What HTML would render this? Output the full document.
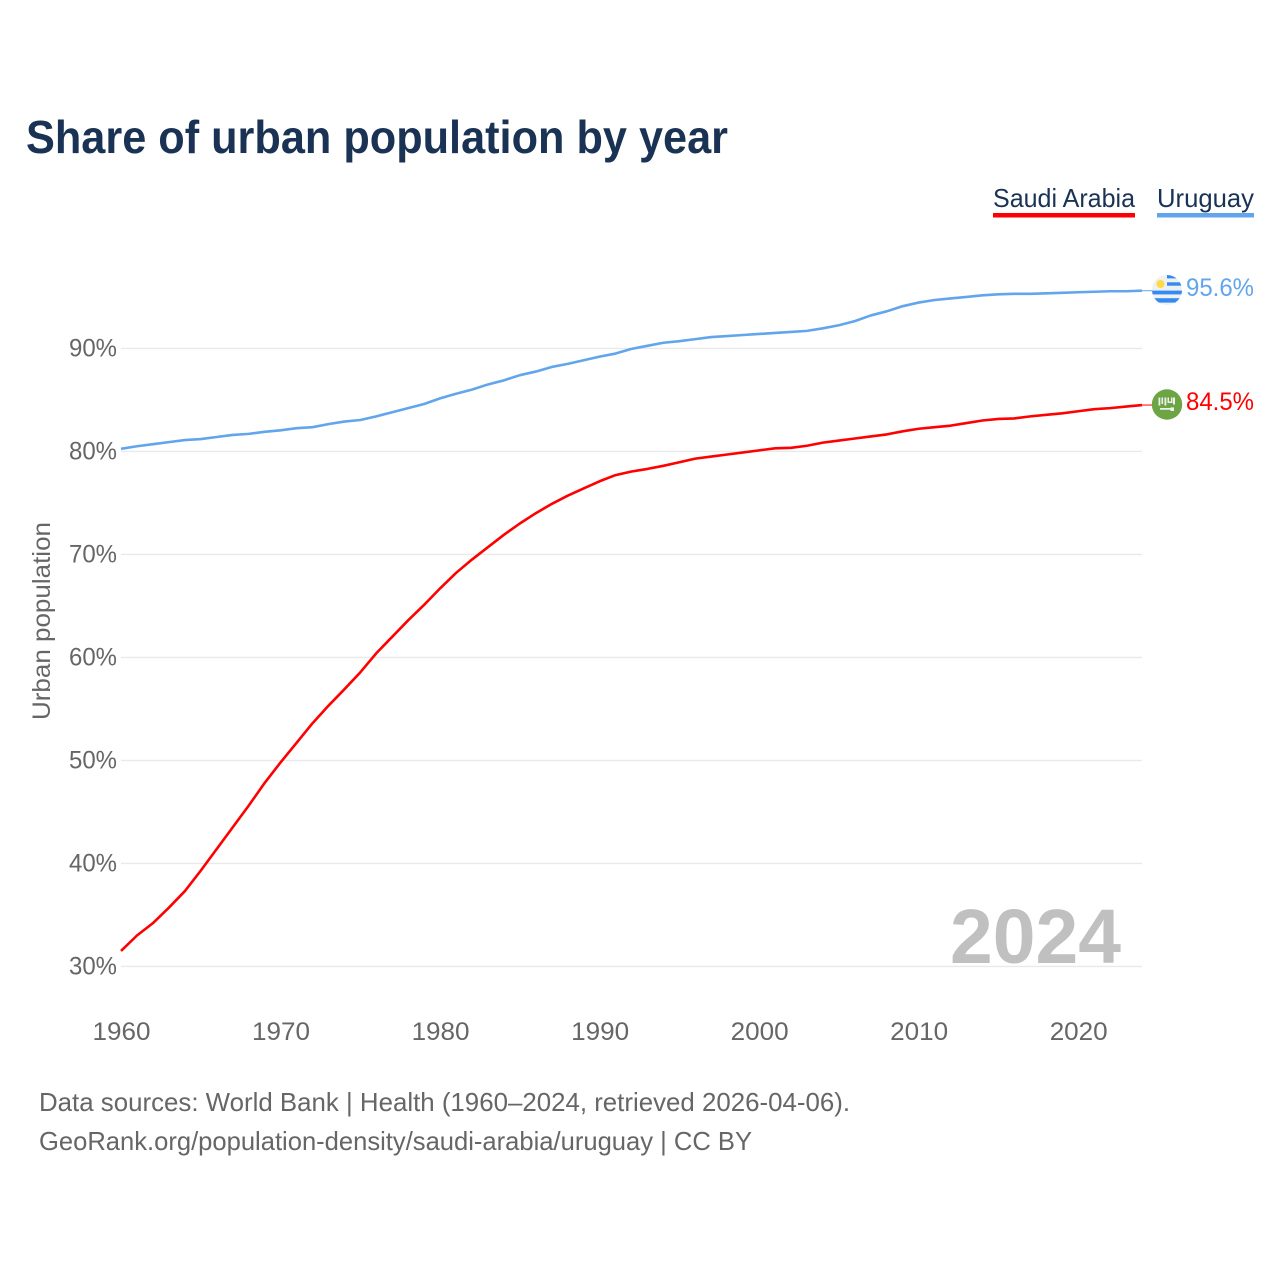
<!DOCTYPE html>
<html lang="en">
<head>
<meta charset="utf-8">
<title>Share of urban population by year</title>
<style>
html,body{margin:0;padding:0;background:#fff;}
svg{display:block;}
text{font-family:"Liberation Sans",sans-serif;}
</style>
</head>
<body>
<svg id="chart" xmlns="http://www.w3.org/2000/svg" width="1280" height="1280" viewBox="0 0 1280 1280">
  <rect x="0" y="0" width="1280" height="1280" fill="#ffffff"/>
  <text x="26" y="153" font-size="46" font-weight="700" fill="#1a3254" textLength="702" lengthAdjust="spacingAndGlyphs">Share of urban population by year</text>

  <g>
    <text x="993" y="207" font-size="26" fill="#1a3254" textLength="142" lengthAdjust="spacingAndGlyphs">Saudi Arabia</text>
    <rect x="993" y="213" width="142" height="4.5" fill="#ff0000"/>
  </g>
  <g>
    <text x="1157" y="207" font-size="26" fill="#1a3254" textLength="97" lengthAdjust="spacingAndGlyphs">Uruguay</text>
    <rect x="1157" y="213" width="97" height="4.5" fill="#62a5ec"/>
  </g>

  <g id="grid"></g>
  <g id="yticks"></g>
  <g id="xticks"></g>

  <text transform="translate(50,720) rotate(-90)" x="0" y="0" font-size="25" fill="#666666" textLength="198" lengthAdjust="spacingAndGlyphs">Urban population</text>

  <text x="950" y="963" font-size="77" font-weight="700" fill="#c0c0c0" textLength="171" lengthAdjust="spacingAndGlyphs">2024</text>

  <g id="series"></g>

  <defs>
    <clipPath id="uy-clip"><circle cx="1167" cy="290" r="15"/></clipPath>
  </defs>
  <g clip-path="url(#uy-clip)">
    <rect x="1152" y="275" width="30" height="30" fill="#f0f0f0"/>
    <rect x="1167" y="275" width="15" height="3.4" fill="#338af3"/>
    <rect x="1167" y="282.3" width="15" height="3.4" fill="#338af3"/>
    <rect x="1152" y="290.6" width="30" height="3.8" fill="#338af3"/>
    <rect x="1152" y="298.2" width="30" height="4.4" fill="#338af3"/>
    <circle cx="1160.5" cy="284" r="4" fill="#ffda44"/>
  </g>
  <g>
    <circle cx="1167" cy="404.5" r="15.2" fill="#6da544"/>
    <path d="M1158.5 397.5h1.8v8h-1.8zM1161.5 397.5h1.6v6.5h-1.6zM1164.5 397.5h1.8v8h-1.8zM1167.5 397.5h1.5v4h2v-4h1.5v5.5h-5zM1173 397.5h2v7h-2z" fill="#f0f0f0"/>
    <path d="M1160 408h10.5v-0.6h3.5v3.6h-3.5v-1.2H1160z" fill="#f0f0f0"/>
  </g>

  <text id="label-uy" x="1186" y="296" font-size="25" fill="#62a5ec" textLength="68" lengthAdjust="spacingAndGlyphs"></text>
  <text id="label-sa" x="1186" y="410" font-size="25" fill="#ff0000" textLength="68" lengthAdjust="spacingAndGlyphs"></text>

  <text x="39" y="1111" font-size="26" fill="#666666" textLength="811" lengthAdjust="spacingAndGlyphs">Data sources: World Bank | Health (1960–2024, retrieved 2026-04-06).</text>
  <text x="39" y="1150" font-size="26" fill="#666666" textLength="713" lengthAdjust="spacingAndGlyphs">GeoRank.org/population-density/saudi-arabia/uruguay | CC BY</text>
</svg>
<script>
var years = [1960,1961,1962,1963,1964,1965,1966,1967,1968,1969,1970,1971,1972,1973,1974,1975,1976,1977,1978,1979,1980,1981,1982,1983,1984,1985,1986,1987,1988,1989,1990,1991,1992,1993,1994,1995,1996,1997,1998,1999,2000,2001,2002,2003,2004,2005,2006,2007,2008,2009,2010,2011,2012,2013,2014,2015,2016,2017,2018,2019,2020,2021,2022,2023,2024];
var saudiArabia = [31.5,33,34.2,35.7,37.3,39.3,41.4,43.5,45.6,47.8,49.8,51.7,53.6,55.3,56.9,58.55,60.4,62,63.6,65.1,66.7,68.2,69.5,70.7,71.9,73,74,74.9,75.7,76.4,77.1,77.7,78.05,78.3,78.6,78.95,79.3,79.5,79.7,79.9,80.1,80.3,80.35,80.55,80.85,81.05,81.25,81.45,81.65,81.95,82.2,82.35,82.5,82.75,83,83.15,83.2,83.4,83.55,83.7,83.9,84.1,84.2,84.35,84.5];
var uruguay = [80.25,80.5,80.7,80.9,81.1,81.2,81.4,81.6,81.7,81.9,82.05,82.25,82.35,82.65,82.9,83.05,83.4,83.8,84.2,84.6,85.15,85.6,86,86.5,86.9,87.4,87.75,88.2,88.5,88.85,89.2,89.5,89.95,90.25,90.55,90.7,90.9,91.1,91.2,91.3,91.4,91.5,91.6,91.7,91.95,92.25,92.65,93.2,93.6,94.1,94.45,94.7,94.85,95,95.15,95.25,95.3,95.3,95.35,95.4,95.45,95.5,95.55,95.55,95.6];
var yTickValues = [30,40,50,60,70,80,90];
var yTickLabels = ["30%","40%","50%","60%","70%","80%","90%"];
var xTickValues = [1960,1970,1980,1990,2000,2010,2020];
var xTickLabels = ["1960","1970","1980","1990","2000","2010","2020"];

var NS = 'http://www.w3.org/2000/svg';
function xScale(year){ return 121 + (year - 1960) * (1142 - 121) / 64; }
function yScale(value){ return 966.4 - (value - 30) * 10.3; }
function make(tag, parent, attrs){
  var el = document.createElementNS(NS, tag);
  for (var k in attrs) { el.setAttribute(k, attrs[k]); }
  parent.appendChild(el);
  return el;
}

var gridGroup = document.getElementById('grid');
var yGroup = document.getElementById('yticks');
var xGroup = document.getElementById('xticks');
var seriesGroup = document.getElementById('series');

yTickValues.forEach(function(v, i){
  var line = make('line', gridGroup, {x1:121, x2:1142, y1:yScale(v), y2:yScale(v), stroke:'#e9e9e9', 'stroke-width':1.4});
  
  
  var t = make('text', yGroup, {x:69, y:yScale(v) + 8, 'font-size':25, fill:'#666666', textLength:48, lengthAdjust:'spacingAndGlyphs'});
  
  
  t.textContent = yTickLabels[i];
});

xTickValues.forEach(function(v, i){
  var t = make('text', xGroup, {x:xScale(v) + 0.5 - 29, y:1040, 'font-size':25, fill:'#666666', textLength:58, lengthAdjust:'spacingAndGlyphs'});
  
  
  t.textContent = xTickLabels[i];
});

function drawSeries(values, color, lineName, leaderName){
  var d = values.map(function(v, i){
    return (i ? 'L' : 'M') + xScale(years[i]).toFixed(2) + ' ' + yScale(v).toFixed(2);
  }).join('');
  var path = make('path', seriesGroup, {d:d, fill:'none', stroke:color, 'stroke-width':2.6, 'stroke-linejoin':'round'});
  
  
  var yEnd = yScale(values[values.length - 1]);
  var leader = make('line', seriesGroup, {x1:1142, x2:1152, y1:yEnd, y2:yEnd, stroke:color, 'stroke-width':1});
  
  
}
drawSeries(uruguay, '#62a5ec', 'line-uruguay', 'leader-uruguay');
drawSeries(saudiArabia, '#ff0000', 'line-saudi-arabia', 'leader-saudi-arabia');

document.getElementById('label-uy').textContent = uruguay[uruguay.length - 1].toFixed(1) + '%';
document.getElementById('label-sa').textContent = saudiArabia[saudiArabia.length - 1].toFixed(1) + '%';
</script>
</body>
</html>
